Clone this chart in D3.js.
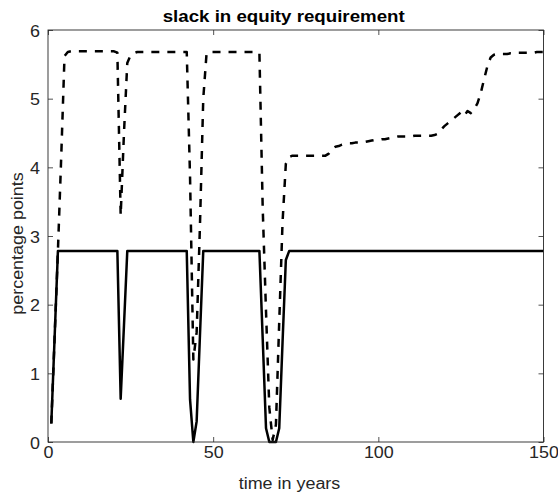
<!DOCTYPE html>
<html>
<head>
<meta charset="utf-8">
<script src="https://cdn.jsdelivr.net/npm/d3@7"></script>
<style>
  html, body { margin: 0; padding: 0; background: #fff; }
  svg { display: block; }
  text { font-family: "Liberation Sans", Arial, sans-serif; }
</style>
</head>
<body>
<svg id="chart" width="558" height="498"></svg>
<script>
// ---- data ----
const years = d3.range(1, 151); // time in years 1..150

const solidSeries = [
  0.27, 1.52, 2.78, 2.78, 2.78, 2.78, 2.78, 2.78, 2.78, 2.78,
  2.78, 2.78, 2.78, 2.78, 2.78, 2.78, 2.78, 2.78, 2.78, 2.78,
  2.78, 0.63, 1.70, 2.78, 2.78, 2.78, 2.78, 2.78, 2.78, 2.78,
  2.78, 2.78, 2.78, 2.78, 2.78, 2.78, 2.78, 2.78, 2.78, 2.78,
  2.78, 2.78, 0.62, 0.00, 0.30, 1.55, 2.78, 2.78, 2.78, 2.78,
  2.78, 2.78, 2.78, 2.78, 2.78, 2.78, 2.78, 2.78, 2.78, 2.78,
  2.78, 2.78, 2.78, 2.78, 1.50, 0.20, 0.00, 0.00, 0.00, 0.20,
  1.45, 2.65, 2.78, 2.78, 2.78, 2.78, 2.78, 2.78, 2.78, 2.78,
  2.78, 2.78, 2.78, 2.78, 2.78, 2.78, 2.78, 2.78, 2.78, 2.78,
  2.78, 2.78, 2.78, 2.78, 2.78, 2.78, 2.78, 2.78, 2.78, 2.78,
  2.78, 2.78, 2.78, 2.78, 2.78, 2.78, 2.78, 2.78, 2.78, 2.78,
  2.78, 2.78, 2.78, 2.78, 2.78, 2.78, 2.78, 2.78, 2.78, 2.78,
  2.78, 2.78, 2.78, 2.78, 2.78, 2.78, 2.78, 2.78, 2.78, 2.78,
  2.78, 2.78, 2.78, 2.78, 2.78, 2.78, 2.78, 2.78, 2.78, 2.78,
  2.78, 2.78, 2.78, 2.78, 2.78, 2.78, 2.78, 2.78, 2.78, 2.78
];

const dashedSeries = [
  0.27, 1.52, 2.78, 4.15, 5.62, 5.68, 5.69, 5.69, 5.69, 5.69,
  5.69, 5.69, 5.69, 5.69, 5.69, 5.69, 5.69, 5.69, 5.69, 5.69,
  5.67, 3.30, 4.50, 5.52, 5.63, 5.66, 5.68, 5.68, 5.68, 5.68,
  5.68, 5.68, 5.68, 5.68, 5.68, 5.68, 5.68, 5.68, 5.68, 5.68,
  5.68, 5.68, 3.86, 1.20, 1.60, 3.15, 5.00, 5.66, 5.68, 5.68,
  5.68, 5.68, 5.68, 5.68, 5.68, 5.68, 5.68, 5.68, 5.68, 5.68,
  5.68, 5.68, 5.68, 5.67, 3.40, 1.90, 0.50, 0.03, 0.25, 1.75,
  3.20, 4.05, 4.15, 4.17, 4.17, 4.17, 4.17, 4.17, 4.17, 4.17,
  4.17, 4.17, 4.17, 4.17, 4.20, 4.27, 4.30, 4.31, 4.33, 4.34,
  4.35, 4.35, 4.36, 4.36, 4.37, 4.37, 4.38, 4.39, 4.40, 4.40,
  4.41, 4.41, 4.42, 4.43, 4.44, 4.45, 4.45, 4.45, 4.45, 4.45,
  4.46, 4.46, 4.46, 4.46, 4.46, 4.46, 4.47, 4.49, 4.55, 4.60,
  4.64, 4.68, 4.72, 4.76, 4.80, 4.75, 4.82, 4.79, 4.85, 4.93,
  5.08, 5.28, 5.47, 5.60, 5.64, 5.65, 5.65, 5.65, 5.65, 5.66,
  5.66, 5.67, 5.67, 5.67, 5.67, 5.67, 5.67, 5.68, 5.68, 5.68
];

const xTicks = [0, 50, 100, 150];
const yTicks = [0, 1, 2, 3, 4, 5, 6];
const titleText = "slack in equity requirement";
const xLabelText = "time in years";
const yLabelText = "percentage points";

// ---- layout ----
const svg = d3.select("#chart");
const mLeft = 48, mRight = 543.5, mTop = 30, mBottom = 442;
const axisColor = "#262626";

const x = d3.scaleLinear().domain([0, 150]).range([mLeft, mRight]);
const y = d3.scaleLinear().domain([0, 6]).range([mBottom, mTop]);

svg.append("rect").attr("x", mLeft).attr("y", mTop)
  .attr("width", mRight - mLeft).attr("height", mBottom - mTop)
  .attr("fill", "#fff");

const solidData = years.map((t, i) => ({ t, v: solidSeries[i] }));
const dashedData = years.map((t, i) => ({ t, v: dashedSeries[i] }));
const line = d3.line().x(d => x(d.t)).y(d => y(d.v));

const plot = svg.append("g");
plot.append("path").datum(solidData)
  .attr("d", line).attr("fill", "none")
  .attr("stroke", "#000").attr("stroke-width", 2.5)
  .attr("stroke-linejoin", "round");
plot.append("path").datum(dashedData)
  .attr("d", line).attr("fill", "none")
  .attr("stroke", "#000").attr("stroke-width", 2.5)
  .attr("stroke-dasharray", "8,8")
  .attr("stroke-linejoin", "round");

const fontSize = 16;
const stretch = 1.12;
const fmt = d3.format("d");

const gx = svg.append("g").attr("transform", `translate(0,${mBottom})`)
  .call(d3.axisBottom(x).tickValues(xTicks).tickFormat(fmt).tickSizeInner(-5).tickSizeOuter(0).tickPadding(5));
const gxTop = svg.append("g").attr("transform", `translate(0,${mTop})`)
  .call(d3.axisTop(x).tickValues(xTicks).tickSizeInner(-5).tickSizeOuter(0).tickFormat(""));
const gy = svg.append("g").attr("transform", `translate(${mLeft},0)`)
  .call(d3.axisLeft(y).tickValues(yTicks).tickFormat(fmt).tickSizeInner(-5).tickSizeOuter(0).tickPadding(8));
const gyRight = svg.append("g").attr("transform", `translate(${mRight},0)`)
  .call(d3.axisRight(y).tickValues(yTicks).tickSizeInner(-5).tickSizeOuter(0).tickFormat(""));

[gx, gxTop, gy, gyRight].forEach(g => {
  g.select(".domain").remove();
  g.selectAll(".tick line").attr("stroke", axisColor).attr("stroke-width", 0.8);
  g.selectAll(".tick text").attr("fill", axisColor)
    .attr("font-size", fontSize)
    .attr("font-family", "'Liberation Sans', Arial, sans-serif");
});
gy.selectAll(".tick text").attr("dy", "0.38em");

svg.append("rect").attr("x", mLeft).attr("y", mTop)
  .attr("width", mRight - mLeft).attr("height", mBottom - mTop)
  .attr("fill", "none").attr("stroke", axisColor).attr("stroke-width", 0.9);

svg.append("text").attr("class", "title")
  .attr("x", 283.7).attr("y", 21.5)
  .attr("text-anchor", "middle")
  .attr("font-size", 16).attr("font-weight", "bold").attr("fill", "#000")
  .text(titleText);

svg.append("text").attr("class", "xlabel")
  .attr("x", 289.5).attr("y", 489)
  .attr("text-anchor", "middle")
  .attr("font-size", fontSize).attr("fill", axisColor)
  .text(xLabelText);

svg.append("g").attr("transform", "translate(23,243.5) rotate(-90)")
  .append("text").attr("class", "ylabel")
  .attr("x", 0).attr("y", 0)
  .attr("text-anchor", "middle")
  .attr("font-size", fontSize).attr("fill", axisColor)
  .text(yLabelText);

svg.selectAll("text").each(function () {
  const el = d3.select(this);
  const len = this.getComputedTextLength();
  if (len > 0) {
    const target = el.classed("title") ? 242 : len * stretch;
    el.attr("textLength", target).attr("lengthAdjust", "spacingAndGlyphs");
  }
});
</script>
</body>
</html>
